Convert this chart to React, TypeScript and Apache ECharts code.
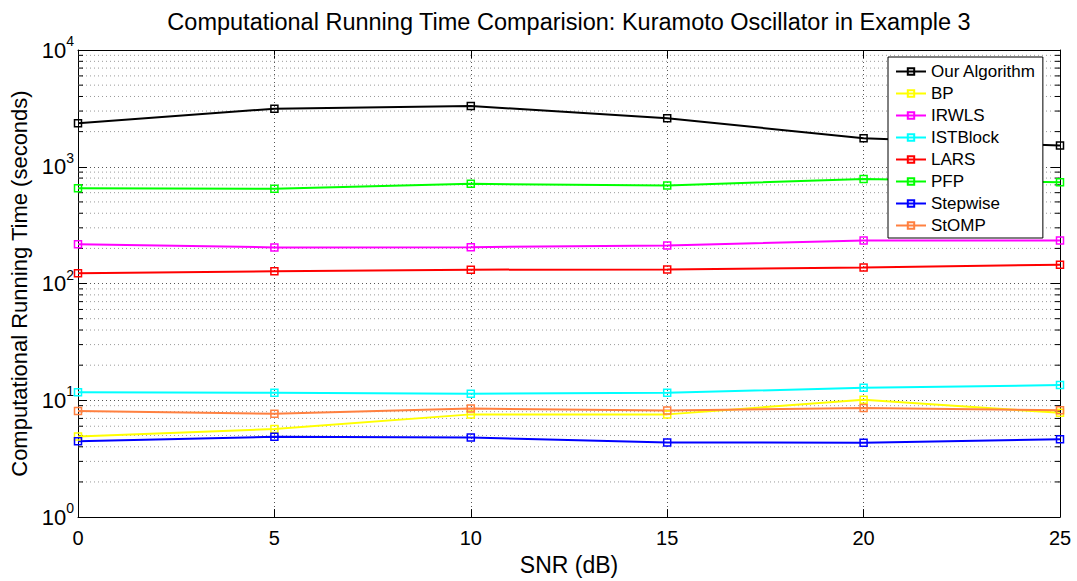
import React, { useEffect, useRef } from "react";
import * as echarts from "echarts";

const snr = [0, 5, 10, 15, 20, 25];
const ourAlgorithm = [2354, 3140, 3311, 2606, 1754, 1521];
const bp = [4.9, 5.68, 7.58, 7.58, 10.1, 7.82];
const irwls = [217, 204, 205, 212, 234, 234];
const istBlock = [11.7, 11.6, 11.4, 11.6, 12.8, 13.5];
const lars = [122.7, 127.6, 131.5, 132, 137, 145];
const pfp = [655, 647, 714, 691, 787, 738];
const stepwise = [4.47, 4.87, 4.81, 4.36, 4.34, 4.65];
const stomp = [8.12, 7.67, 8.5, 8.19, 8.6, 8.23];

const seriesNames = ["Our Algorithm", "BP", "IRWLS", "ISTBlock", "LARS", "PFP", "Stepwise", "StOMP"];
const seriesValues = [ourAlgorithm, bp, irwls, istBlock, lars, pfp, stepwise, stomp];
const seriesColors = ["#000000", "#ffff00", "#ff00ff", "#00ffff", "#ff0000", "#00ff00", "#0000ff", "#ff8040"];

const decades = [1, 10, 100, 1000];
const minorMultipliers = [2, 3, 4, 5, 6, 7, 8, 9];

const titleText = "Computational Running Time Comparision: Kuramoto Oscillator in Example 3";
const xName = "SNR (dB)";
const yName = "Computational Running Time (seconds)";

const FONT = "'Liberation Sans', Arial, Helvetica, sans-serif";

export default function App() {
  const ref = useRef<HTMLDivElement>(null);
  useEffect(() => {
    if (!ref.current) return;
    const chart = echarts.init(ref.current, null, { renderer: "svg" });
    const minorValues: number[][] = [];
    decades.forEach((d) => minorMultipliers.forEach((m) => minorValues.push([0, d * m])));

    const lineSeries = seriesNames.map((name, i) => ({
      name,
      type: "line",
      data: snr.map((x, j) => [x, seriesValues[i][j]]),
      symbol: "rect",
      symbolSize: 7,
      showSymbol: true,
      lineStyle: { color: seriesColors[i], width: 2 },
      itemStyle: { color: "rgba(255,255,255,0)", borderColor: seriesColors[i], borderWidth: 1.5 },
      z: 10,
    }));

    const minorSeries = {
      type: "custom",
      name: "minor",
      silent: true,
      z: 1,
      data: minorValues,
      renderItem: (params: any, api: any) => {
        const cs = params.coordSys;
        const p = api.coord([0, api.value(1)]);
        const y = p[1];
        return {
          type: "group",
          children: [
            {
              type: "line",
              shape: { x1: cs.x, y1: y, x2: cs.x + cs.width, y2: y },
              style: { stroke: "#9a9a9a", lineWidth: 1, lineDash: [1, 3] },
            },
            {
              type: "line",
              shape: { x1: cs.x, y1: y, x2: cs.x + 5, y2: y },
              style: { stroke: "#000", lineWidth: 1 },
            },
            {
              type: "line",
              shape: { x1: cs.x + cs.width - 5, y1: y, x2: cs.x + cs.width, y2: y },
              style: { stroke: "#000", lineWidth: 1 },
            },
          ],
        };
      },
    };

    const yLabelFormatter = (v: number) => `{b|10}{s|${Math.round(Math.log10(v))}}`;

    chart.setOption({
      animation: false,
      backgroundColor: "#ffffff",
      textStyle: { fontFamily: FONT },
      graphic: [
        {
          type: "text",
          x: 569,
          y: 22,
          style: {
            text: titleText,
            fontSize: 23.5,
            fontFamily: FONT,
            fill: "#000",
            align: "center",
            verticalAlign: "middle",
          },
        },
      ],
      grid: { left: 76, right: 17, top: 50, bottom: 52, containLabel: false },
      legend: {
        data: seriesNames,
        orient: "vertical",
        left: 888,
        top: 57,
        backgroundColor: "#ffffff",
        borderColor: "#000",
        borderWidth: 1,
        borderRadius: 0,
        padding: [6, 7, 4, 7],
        itemWidth: 30,
        itemHeight: 8,
        itemGap: 5,
        textStyle: { fontSize: 17, fontFamily: FONT, color: "#000" },
        z: 20,
      },
      xAxis: [
        {
          type: "value",
          min: 0,
          max: 25,
          interval: 5,
          name: xName,
          nameLocation: "middle",
          nameGap: 26,
          nameTextStyle: { fontSize: 23, fontFamily: FONT, color: "#000" },
          axisLine: { show: true, onZero: false, lineStyle: { color: "#000", width: 1 } },
          axisTick: { show: true, inside: true, length: 8, lineStyle: { color: "#000" } },
          axisLabel: { fontSize: 20, color: "#000", margin: 11, fontFamily: FONT },
          splitLine: { show: true, lineStyle: { color: "#555", type: [1, 3], width: 1 } },
        },
        {
          type: "value",
          position: "top",
          min: 0,
          max: 25,
          interval: 5,
          axisLine: { show: true, onZero: false, lineStyle: { color: "#000", width: 1 } },
          axisTick: { show: true, inside: true, length: 8, lineStyle: { color: "#000" } },
          axisLabel: { show: false },
          splitLine: { show: false },
        },
      ],
      yAxis: [
        {
          type: "log",
          logBase: 10,
          min: 1,
          max: 10000,
          name: yName,
          nameLocation: "middle",
          nameGap: 48,
          nameTextStyle: { fontSize: 22, fontFamily: FONT, color: "#000" },
          axisLine: { show: true, onZero: false, lineStyle: { color: "#000", width: 1 } },
          axisTick: { show: true, inside: true, length: 9, lineStyle: { color: "#000" } },
          axisLabel: {
            margin: 4,
            formatter: yLabelFormatter,
            rich: {
              b: { fontSize: 22, fontFamily: FONT, color: "#000" },
              s: { fontSize: 14, fontFamily: FONT, color: "#000", padding: [0, 0, 18, 0] },
            },
          },
          splitLine: { show: true, lineStyle: { color: "#555", type: [1, 3], width: 1 } },
        },
        {
          type: "log",
          logBase: 10,
          position: "right",
          min: 1,
          max: 10000,
          axisLine: { show: true, onZero: false, lineStyle: { color: "#000", width: 1 } },
          axisTick: { show: true, inside: true, length: 9, lineStyle: { color: "#000" } },
          axisLabel: { show: false },
          splitLine: { show: false },
        },
      ],
      series: [minorSeries, ...lineSeries],
    });
    return () => chart.dispose();
  }, []);
  return (
    <div
      ref={ref}
      style={{ position: "fixed", left: 0, top: 0, width: 1077, height: 581, background: "#fff" }}
    />
  );
}
